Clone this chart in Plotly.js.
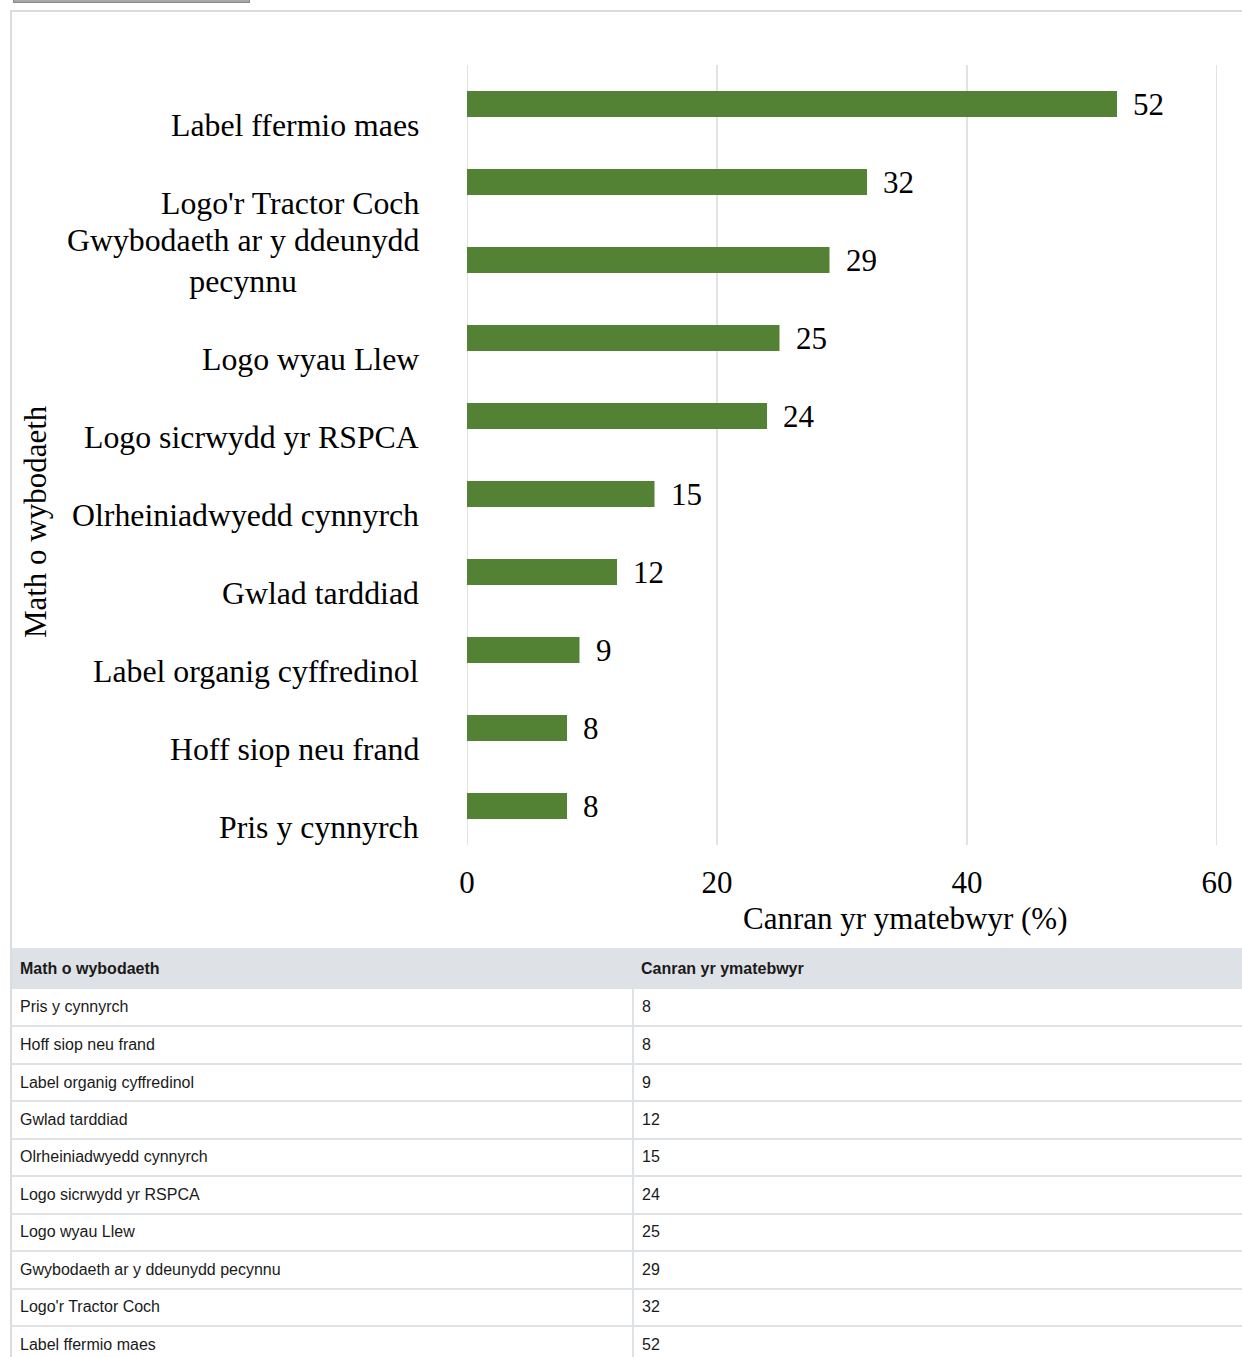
<!DOCTYPE html>
<html>
<head>
<meta charset="utf-8">
<script src="https://cdn.plot.ly/plotly-3.0.1.min.js"></script>
<style>
  html, body { margin: 0; padding: 0; width: 1242px; height: 1357px; overflow: hidden; background: #fff; }
  #btn { position: absolute; left: 13px; top: -20px; width: 235px; height: 21px; background: #a8a8a8; border: 1px solid #8a8a8a; }
  #frame { position: absolute; left: 10px; top: 10px; width: 1260px; height: 960px; border-top: 2px solid #dcdcdc; border-left: 2px solid #dcdcdc; box-sizing: border-box; }
  #chart { position: absolute; left: 0; top: 0; width: 1242px; height: 948px; }
  #tbl { position: absolute; left: 10px; top: 948px; width: 1260px; border-collapse: collapse; font-family: "Liberation Sans", Arial, sans-serif; font-size: 16px; color: #1a1a1a; border-left: 2px solid #dcdcdc; }
  #tbl th { background: #dee2e6; text-align: left; font-weight: bold; height: 41px; padding: 0 8px; box-sizing: border-box; }
  #tbl td { height: 37.45px; padding: 0 8px; box-sizing: border-box; border-bottom: 2px solid #dee2e6; background: #fff; }
  #tbl td:first-child { border-right: 2px solid #dee2e6; }
  #tbl th:first-child { width: 622px; }
</style>
</head>
<body>
<div id="btn"></div>
<div id="frame"></div>
<div id="chart"></div>
<table id="tbl"><thead><tr><th id="h1"></th><th id="h2"></th></tr></thead><tbody id="tb"></tbody></table>
<script>
// ---- data ----
const categories = [
  "Pris y cynnyrch",
  "Hoff siop neu frand",
  "Label organig cyffredinol",
  "Gwlad tarddiad",
  "Olrheiniadwyedd cynnyrch",
  "Logo sicrwydd yr RSPCA",
  "Logo wyau Llew",
  "Gwybodaeth ar y ddeunydd pecynnu",
  "Logo'r Tractor Coch",
  "Label ffermio maes"
];
const categoryLabels = [
  "Pris y cynnyrch",
  "Hoff siop neu frand",
  "Label organig cyffredinol",
  "Gwlad tarddiad",
  "Olrheiniadwyedd cynnyrch",
  "Logo sicrwydd yr RSPCA",
  "Logo wyau Llew",
  "Gwybodaeth ar y ddeunydd<br>pecynnu",
  "Logo'r Tractor Coch",
  "Label ffermio maes"
];
const values = [8, 8, 9, 12, 15, 24, 25, 29, 32, 52];
const xTicks = [0, 20, 40, 60];
const xTitle = "Canran yr ymatebwyr (%)";
const yTitle = "Math o wybodaeth";
const tableHeaders = ["Math o wybodaeth", "Canran yr ymatebwyr"];

// ---- chart ----
function fnt(sz) { return {family: "Liberation Serif", size: sz, color: "#000"}; }

const annotations = [];
categories.forEach((c, i) => {
  annotations.push({
    x: 0, xref: "x", y: c, yref: "y",
    xanchor: "right", yanchor: "bottom", xshift: -46, yshift: -41,
    text: categoryLabels[i], showarrow: false, align: "center", font: fnt(31.8)
  });
  annotations.push({
    x: values[i], xref: "x", y: c, yref: "y",
    xanchor: "left", yanchor: "middle", xshift: 14, yshift: 0,
    text: String(values[i]), showarrow: false, font: fnt(31)
  });
});
annotations.push({
  x: 0.584, xref: "paper", y: 0, yref: "paper", xanchor: "center", yanchor: "middle",
  yshift: -73, text: xTitle, showarrow: false, font: fnt(31)
});
annotations.push({
  x: -0.576, xref: "paper", y: 0.414, yref: "paper", xanchor: "center", yanchor: "middle",
  textangle: -90, text: yTitle, showarrow: false, font: fnt(31)
});

// vertical gridlines at each x tick (drawn below the bars)
const gridShapes = xTicks.map(t => ({
  type: "line", xref: "x", yref: "paper", x0: t, x1: t, y0: 0, y1: 1,
  line: {color: "#d9d9d9", width: 1.5}, layer: "below"
}));

Plotly.newPlot("chart", [{
  type: "bar", orientation: "h",
  x: values, y: categories,
  marker: {color: "#548235", line: {width: 0}},
  width: 0.333,
  hoverinfo: "none"
}], {
  width: 1242, height: 948,
  margin: {l: 467, r: 25, t: 65, b: 103, pad: 0},
  paper_bgcolor: "rgba(0,0,0,0)", plot_bgcolor: "rgba(0,0,0,0)",
  font: {family: "Liberation Serif", size: 31, color: "#000"},
  showlegend: false,
  xaxis: {
    range: [0, 60], tickmode: "array", tickvals: xTicks, ticktext: xTicks.map(String),
    showgrid: false, zeroline: false, showline: false, ticks: "",
    tickfont: {family: "Liberation Serif", size: 31, color: "#000"},
    ticklabelstandoff: 16, fixedrange: true
  },
  yaxis: {
    type: "category", categoryorder: "array", categoryarray: categories,
    range: [-0.5, categories.length - 0.5],
    showgrid: false, zeroline: false, showline: false, showticklabels: false, ticks: "",
    fixedrange: true
  },
  shapes: gridShapes,
  annotations: annotations
}, {displayModeBar: false, staticPlot: true});

// ---- table ----
document.getElementById("h1").textContent = tableHeaders[0];
document.getElementById("h2").textContent = tableHeaders[1];
const tb = document.getElementById("tb");
categories.forEach((c, i) => {
  const tr = document.createElement("tr");
  const a = document.createElement("td"); a.textContent = c;
  const b = document.createElement("td"); b.textContent = String(values[i]);
  tr.appendChild(a); tr.appendChild(b); tb.appendChild(tr);
});
</script>
</body>
</html>
